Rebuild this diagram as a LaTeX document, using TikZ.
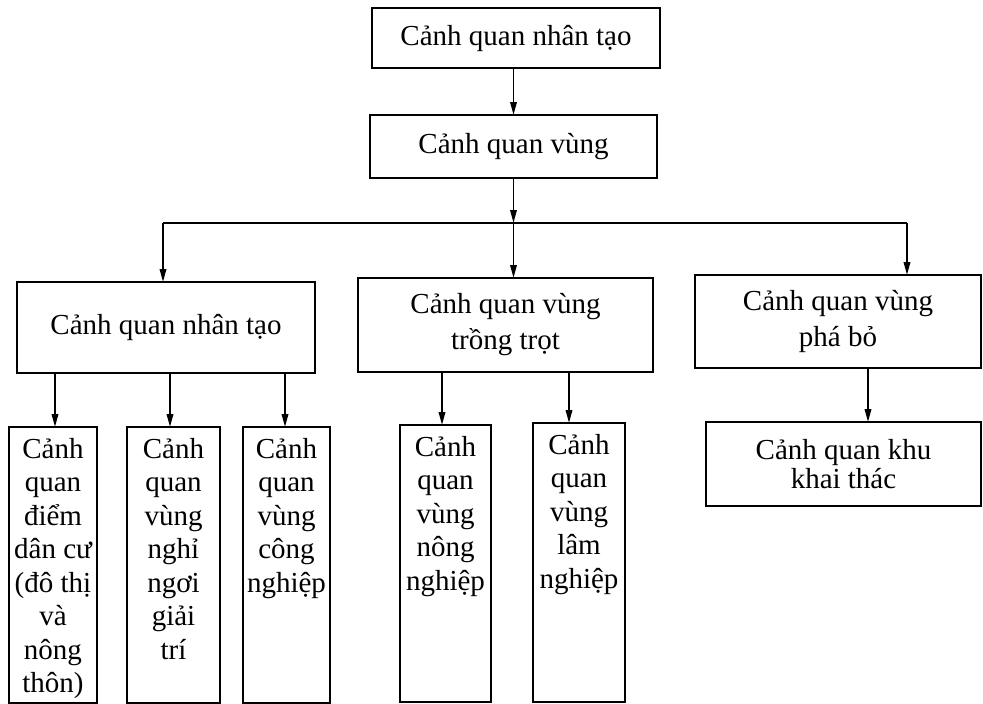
\documentclass[tikz,border=0pt]{standalone}
\usepackage{fontspec}
\setmainfont{Liberation Serif}
\usetikzlibrary{arrows.meta,calc}
\newcommand\tallbox[3]{\parbox[c][#1][t]{#2}{\centering\fontsize{29}{33.5}\selectfont\rule{0pt}{31pt}#3}}
\begin{document}
\begin{tikzpicture}[x=1pt,y=-1pt, line width=1.8pt,
 box/.style={draw, inner sep=0pt, outer sep=0pt, align=center, font=\fontsize{29}{36}\selectfont},
 nbox/.style={draw, inner sep=0pt, outer sep=0pt},
 arr/.style={-{Triangle[length=13pt,width=6.5pt]}}]
\useasboundingbox (0,0) rectangle (983,704);
% upper levels
\node[box, minimum width=288pt, minimum height=60pt] (top) at (516,38) {Cảnh quan nhân tạo};
\node[box, minimum width=287pt, minimum height=63pt] (vung) at (513.5,146.5) {Cảnh quan vùng};
\node[box, minimum width=298pt, minimum height=91pt] (nt) at (166,327.5) {Cảnh quan nhân tạo};
\node[box, minimum width=295pt, minimum height=94pt] (tt) at (505.5,325) {Cảnh quan vùng\\trồng trọt};
\node[box, minimum width=286pt, minimum height=93pt] (pb) at (838,321.5) {Cảnh quan vùng\\phá bỏ};
\node[box, minimum width=275pt, minimum height=84pt, font=\fontsize{29}{29}\selectfont] (kt) at (843.5,464) {Cảnh quan khu\\khai thác};
% tall boxes
\node[nbox] (c1) at (53,565) {\tallbox{276pt}{88pt}{Cảnh\\quan\\điểm\\dân cư\\(đô thị\\và\\nông\\thôn)}};
\node[nbox] (c2) at (173.5,565) {\tallbox{276pt}{93pt}{Cảnh\\quan\\vùng\\nghỉ\\ngơi\\giải\\trí}};
\node[nbox] (c3) at (286.5,565) {\tallbox{276pt}{87pt}{Cảnh\\quan\\vùng\\công\\nghiệp}};
\node[nbox] (c4) at (445.5,563.5) {\tallbox{277pt}{91pt}{Cảnh\\quan\\vùng\\nông\\nghiệp}};
\node[nbox] (c5) at (579,562.5) {\tallbox{279pt}{92pt}{Cảnh\\quan\\vùng\\lâm\\nghiệp}};
% junctions
\coordinate (j) at (vung.south |- 0,223);
\coordinate (jl) at (163,223);
\coordinate (jr) at (907,223);
\coordinate (a1) at (55,0);
\coordinate (a2) at (170,0);
\coordinate (a3) at (285,0);
\coordinate (a4) at (442,0);
\coordinate (a5) at (569,0);
\coordinate (a6) at (868,0);
% connectors
\draw[arr] (vung.north |- top.south) -- (vung.north);
\draw[arr] (vung.south) -- (j);
\draw[arr] (j) -- (j |- tt.north);
\draw (jl) -- (jr);
\draw[arr] (jl) -- (jl |- nt.north);
\draw[arr] (jr) -- (jr |- pb.north);
\draw[arr] (a1 |- nt.south) -- (a1 |- c1.north);
\draw[arr] (a2 |- nt.south) -- (a2 |- c2.north);
\draw[arr] (a3 |- nt.south) -- (a3 |- c3.north);
\draw[arr] (a4 |- tt.south) -- (a4 |- c4.north);
\draw[arr] (a5 |- tt.south) -- (a5 |- c5.north);
\draw[arr] (a6 |- pb.south) -- (a6 |- kt.north);
\end{tikzpicture}
\end{document}
